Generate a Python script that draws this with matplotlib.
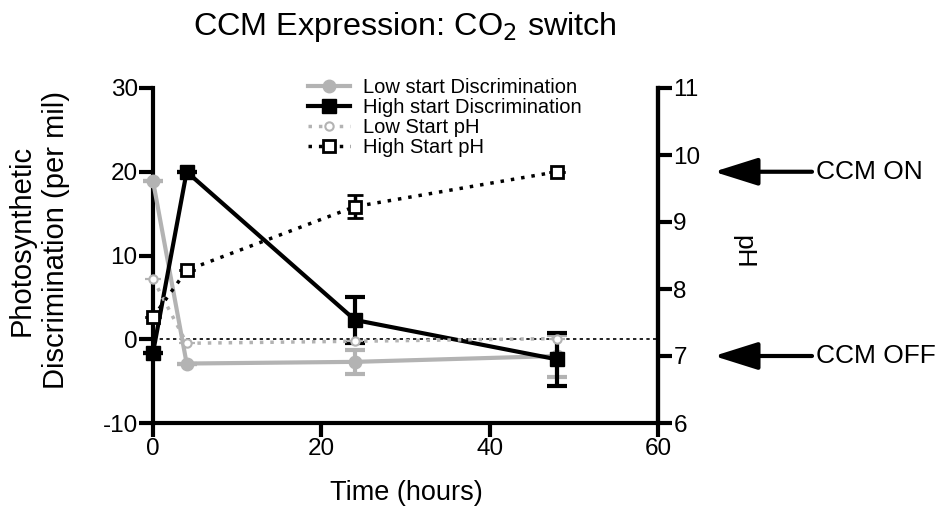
import matplotlib.pyplot as plt
import matplotlib.transforms as mtransforms

plt.rcParams['font.family'] = ['Liberation Sans', 'DejaVu Sans']
plt.rcParams['axes.unicode_minus'] = False

# time points (hours)
hours = [0, 4, 24, 48]

# photosynthetic discrimination (per mil)
low_disc = [18.9, -2.9, -2.7, -2.0]
low_disc_err = [0, 0, 1.4, 2.5]
high_disc = [-1.6, 20.0, 2.3, -2.4]
high_disc_err = [0, 0, 2.7, 3.2]

# pH
low_ph = [8.15, 7.19, 7.22, 7.26]
low_ph_err = [0, 0, 0, 0]
high_ph = [7.58, 8.28, 9.23, 9.75]
high_ph_err = [0, 0, 0.17, 0]

ccm_on_ph = 9.75
ccm_off_ph = 7.0

grey = '#b3b3b3'

fig = plt.figure(figsize=(9.38, 5.09), dpi=100)
ax = fig.add_axes([153/938, 1-423/509, 505/938, 335/509])
ax2 = ax.twinx()

ax.set_xlim(0, 60)
ax.set_ylim(-10, 30)
ax2.set_ylim(6, 11)
ax.set_xticks([0, 20, 40, 60])
ax.set_yticks([-10, 0, 10, 20, 30])
ax2.set_yticks([6, 7, 8, 9, 10, 11])

for a in (ax, ax2):
    a.spines['top'].set_visible(False)
    for s in a.spines.values():
        s.set_linewidth(3)
    a.tick_params(width=3, length=10, labelsize=17.5, pad=1)
ax2.spines['left'].set_visible(False)
ax2.spines['bottom'].set_visible(False)

ax.axhline(0, color='black', lw=1.2, ls=(0, (2, 2)), zorder=1)

l1 = ax.errorbar(hours, low_disc, yerr=low_disc_err, color=grey, lw=3,
                 marker='o', ms=9, capsize=7, capthick=3, elinewidth=3,
                 clip_on=False, zorder=3)
l2 = ax.errorbar(hours, high_disc, yerr=high_disc_err, color='black', lw=3,
                 marker='s', ms=10, capsize=7, capthick=3, elinewidth=3,
                 clip_on=False, zorder=4)
l3 = ax2.errorbar(hours, low_ph, yerr=low_ph_err, color=grey, lw=2.5,
                  ls=(0, (1, 2)), marker='o', ms=6, mfc='white', mew=1.5,
                  capsize=6, capthick=2.5, clip_on=False)
l4 = ax2.errorbar(hours, high_ph, yerr=high_ph_err, color='black', lw=2.5,
                  ls=(0, (1, 2)), marker='s', ms=8, mfc='white', mew=2,
                  capsize=6, capthick=2.5, elinewidth=2.5, clip_on=False)

labels = ['Low start Discrimination', 'High start Discrimination',
          'Low Start pH', 'High Start pH']
ax2.legend([l1[0], l2[0], l3[0], l4[0]], labels, loc='upper left',
           frameon=False, bbox_to_anchor=(298/938, 1-68/509),
           bbox_transform=fig.transFigure, fontsize=14.5, labelspacing=0.05,
           handlelength=2.1, handletextpad=0.65, borderpad=0)

fig.text(405/938, 1-27/509, 'CCM Expression: CO$_2$ switch', fontsize=23.3,
         ha='center', va='center')
fig.text(406/938, 1-493/509, 'Time (hours)', fontsize=19.5,
         ha='center', va='center')
fig.text(39/938, 1-240/509, 'Photosynthetic\nDiscrimination (per mil)',
         fontsize=21, rotation=90, ha='center', va='center',
         multialignment='center', linespacing=1.3)
fig.text(743/938, 1-252/509, 'pH', fontsize=19, rotation=270,
         ha='center', va='center')

# CCM status arrows on the pH scale
trans = mtransforms.blended_transform_factory(fig.transFigure, ax2.transData)
for ph, label in [(ccm_on_ph, 'CCM ON'), (ccm_off_ph, 'CCM OFF')]:
    ax2.annotate('', xy=(714/938, ph), xycoords=trans,
                 xytext=(812/938, ph), textcoords=trans,
                 arrowprops=dict(arrowstyle='-|>,head_length=2.7,head_width=0.85',
                                 color='black', lw=3, mutation_scale=10,
                                 shrinkA=0, shrinkB=0),
                 annotation_clip=False)
    ax2.text(816/938, ph, label, transform=trans, fontsize=19,
             ha='left', va='center')

fig.savefig('out.png', dpi=100)
